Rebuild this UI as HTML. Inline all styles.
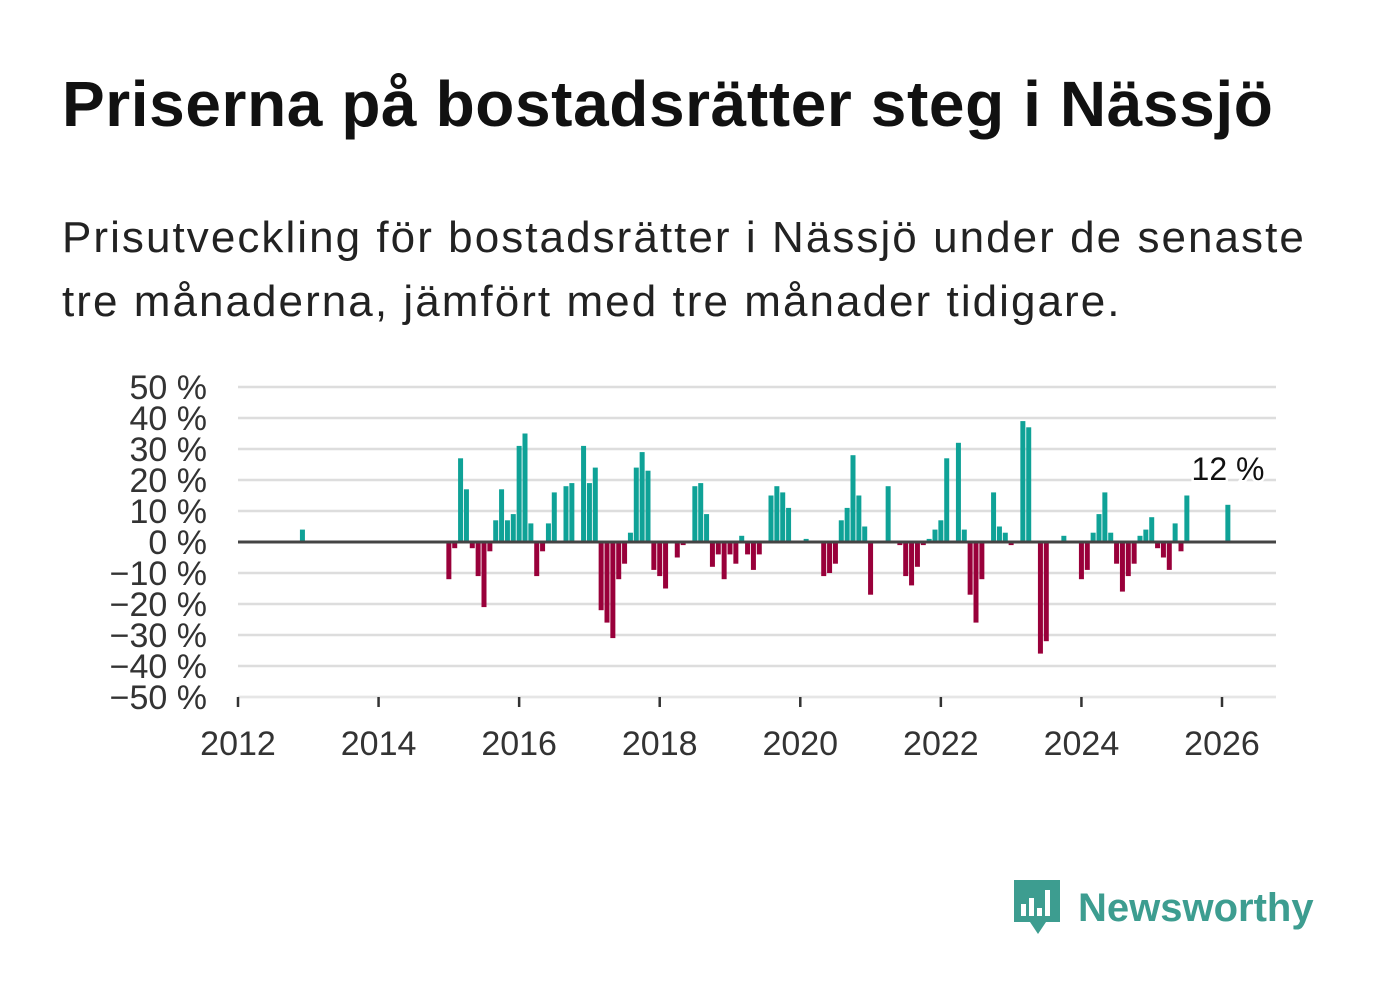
<!DOCTYPE html>
<html><head><meta charset="utf-8"><style>
body{margin:0;background:#fff;width:1382px;height:999px;overflow:hidden;font-family:"Liberation Sans","DejaVu Sans",sans-serif}
#title{position:absolute;left:62px;top:67px;font-size:64px;line-height:74px;font-weight:bold;color:#111;margin:0;letter-spacing:0.6px;white-space:nowrap}
#sub{position:absolute;left:62px;top:206px;font-size:44px;color:#222;line-height:64px;margin:0;letter-spacing:2.05px;white-space:nowrap}
svg{position:absolute;left:0;top:0}
</style></head><body>
<h1 id="title">Priserna på bostadsrätter steg i Nässjö</h1>
<p id="sub">Prisutveckling för bostadsrätter i Nässjö under de senaste<br>tre månaderna, jämfört med tre månader tidigare.</p>
<svg id="chart" width="1382" height="999"></svg>
<script>
const months=[11,36,37,38,39,40,41,42,43,44,45,46,47,48,49,50,51,52,53,54,56,57,59,60,61,62,63,64,65,66,67,68,69,70,71,72,73,75,76,78,79,80,81,82,83,84,85,86,87,88,89,91,92,93,94,97,100,101,102,103,104,105,106,107,108,111,113,114,115,116,117,118,119,120,121,123,124,125,126,127,129,130,131,132,134,135,137,138,141,144,145,146,147,148,149,150,151,152,153,154,155,156,157,158,159,160,161,162,169];
const values=[4,-12,-2,27,17,-2,-11,-21,-3,7,17,7,9,31,35,6,-11,-3,6,16,18,19,31,19,24,-22,-26,-31,-12,-7,3,24,29,23,-9,-11,-15,-5,-1,18,19,9,-8,-4,-12,-4,-7,2,-4,-9,-4,15,18,16,11,1,-11,-10,-7,7,11,28,15,5,-17,18,-1,-11,-14,-8,-1,1,4,7,27,32,4,-17,-26,-12,16,5,3,-1,39,37,-36,-32,2,-12,-9,3,9,16,3,-7,-16,-11,-7,2,4,8,-2,-5,-9,6,-3,15,12];
const yTicks=[50,40,30,20,10,0,-10,-20,-30,-40,-50];
const xYears=[2012,2014,2016,2018,2020,2022,2024,2026];
const svg=document.getElementById('chart');const NS='http://www.w3.org/2000/svg';
const x0=238,monthW=(1222-238)/168;
const xs=m=>x0+m*monthW;
const ys=v=>542-v*3.1;
function mk(t,a){const e=document.createElementNS(NS,t);for(const k in a)e.setAttribute(k,a[k]);svg.appendChild(e);return e;}
yTicks.forEach(v=>{
 if(v!==0){const g=mk('line',{x1:238,x2:1276,y1:ys(v),y2:ys(v),stroke:'#ddd','stroke-width':2.5});
 
 }
 const t=mk('text',{x:207,y:ys(v)+12,'text-anchor':'end','font-size':34,fill:'#333'});
 t.textContent=(v<0?'\u2212'+(-v):v)+' %';
 
 
});
months.forEach((m,i)=>{const v=values[i];
 const r=mk('rect',{x:xs(m)-2.5,width:5,y:v>=0?ys(v):ys(0),height:Math.abs(ys(v)-ys(0)),fill:v>=0?'#0fa297':'#99003a'});
 
 
});
const z=mk('line',{x1:238,x2:1276,y1:ys(0),y2:ys(0),stroke:'#444','stroke-width':3});


const ax=mk('line',{x1:238,x2:1276,y1:697,y2:697,stroke:'#eee','stroke-width':1});


xYears.forEach(yr=>{const x=xs((yr-2012)*12);
 const tk=mk('line',{x1:x,x2:x,y1:697,y2:707,stroke:'#333','stroke-width':2.5});
 
 
 const t=mk('text',{x:x,y:755,'text-anchor':'middle','font-size':34,fill:'#333'});t.textContent=yr;
 
 
});
const lastV=values[values.length-1];
const lb=mk('text',{x:1228,y:ys(lastV)-25,'text-anchor':'middle','font-size':32,fill:'#111',stroke:'#fff','stroke-width':5,'paint-order':'stroke'});
lb.textContent=lastV+' %';


</script>
<div style="position:absolute;left:1012px;top:878px;height:60px;display:flex;align-items:center">
<svg width="50" height="60" style="position:relative"><path d="M2 2h46v42H34l-8 12-8-12H2z" fill="#3d9d90"/><rect x="9" y="26" width="5" height="12" fill="#fff"/><rect x="17" y="20" width="5" height="18" fill="#fff"/><rect x="25" y="30" width="5" height="8" fill="#fff"/><rect x="33" y="12" width="5" height="26" fill="#fff"/></svg>
<span style="font-size:40px;font-weight:bold;color:#3d9d90;margin-left:16px">Newsworthy</span></div>
</body></html>
